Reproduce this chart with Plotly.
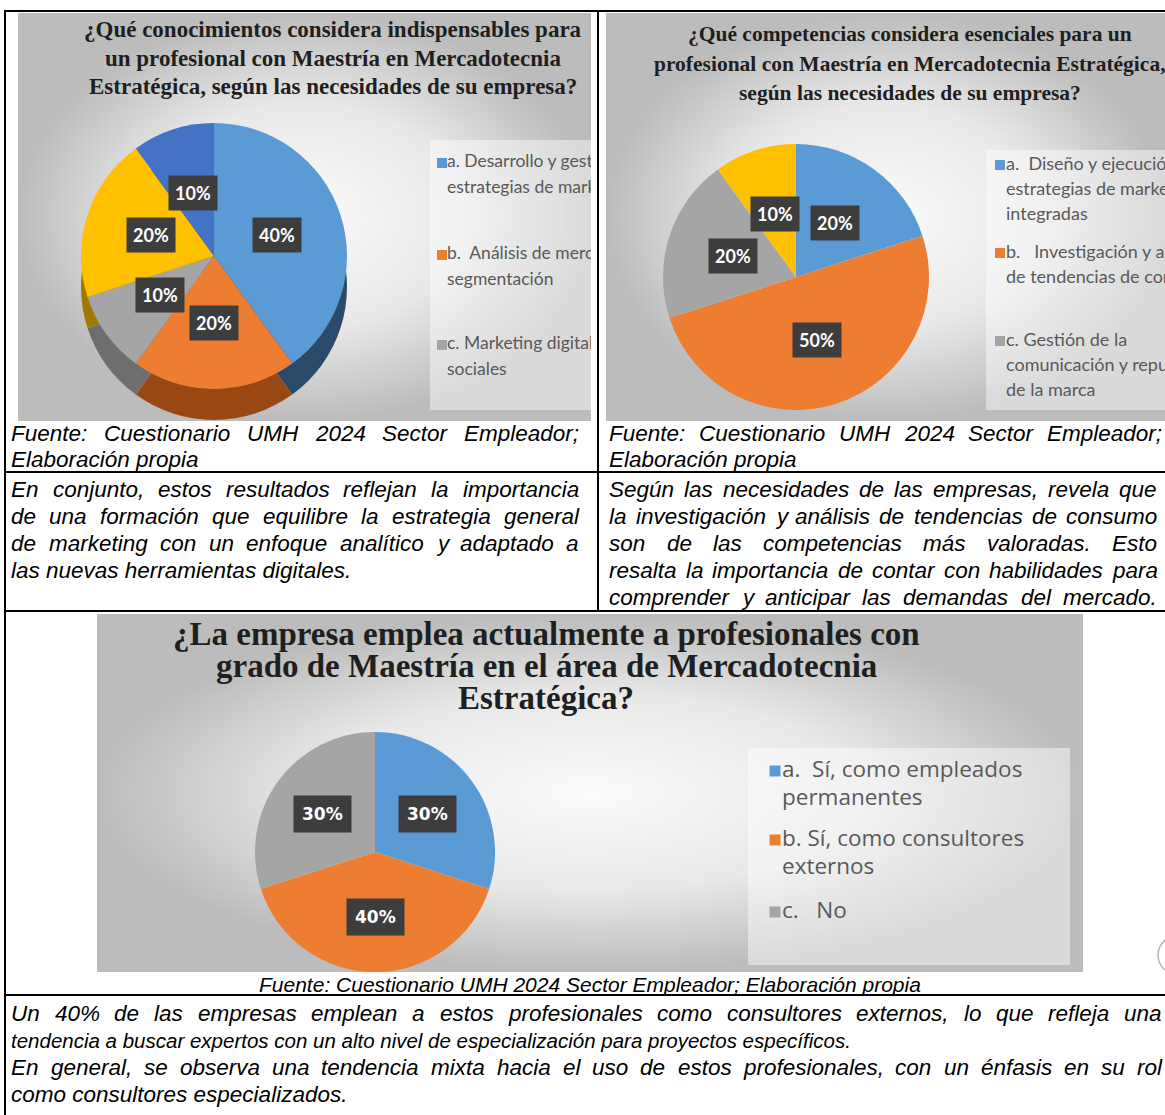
import math
import plotly.graph_objects as go

W, H = 1165, 1115

# ---------------- survey results ----------------
q1_title = ["¿Qué conocimientos considera indispensables para",
            "un profesional con Maestría en Mercadotecnia",
            "Estratégica, según las necesidades de su empresa?"]
q1_labels = ["a. Desarrollo y gestión de estrategias de marketing",
             "b. Análisis de mercado y segmentación",
             "c. Marketing digital y redes sociales",
             "d. Comportamiento del consumidor",
             "e. Gestión de marca"]
q1_values = [40, 20, 10, 20, 10]
q1_legend = [["a. Desarrollo y gestión de", "estrategias de marketing"],
             ["b.  Análisis de mercado y", "segmentación"],
             ["c. Marketing digital y redes", "sociales"]]

q2_title = ["¿Qué competencias considera esenciales para un",
            "profesional con Maestría en Mercadotecnia Estratégica,",
            "según las necesidades de su empresa?"]
q2_labels = ["a. Diseño y ejecución de estrategias de marketing integradas",
             "b. Investigación y análisis de tendencias de consumo",
             "c. Gestión de la comunicación y reputación de la marca",
             "d. Liderazgo y gestión de equipos"]
q2_values = [20, 50, 20, 10]
q2_legend = [["a.  Diseño y ejecución de", "estrategias de marketing", "integradas"],
             ["b.   Investigación y análisis", "de tendencias de consumo"],
             ["c. Gestión de la", "comunicación y reputación", "de la marca"]]

q3_title = ["¿La empresa emplea actualmente a profesionales con",
            "grado de Maestría en el área de Mercadotecnia",
            "Estratégica?"]
q3_labels = ["a. Sí, como empleados permanentes",
             "b. Sí, como consultores externos",
             "c. No"]
q3_values = [30, 40, 30]
q3_legend = [["a.  Sí, como empleados", "permanentes"],
             ["b. Sí, como consultores", "externos"],
             ["c.   No"]]

source_text = "Fuente: Cuestionario UMH 2024 Sector Empleador;"
source_tail = "Elaboración propia"

# (text, justified, font size or None for the default)
left_par = [("En conjunto, estos resultados reflejan la importancia", True, None),
            ("de una formación que equilibre la estrategia general", True, None),
            ("de marketing con un enfoque analítico y adaptado a", True, None),
            ("las nuevas herramientas digitales.", False, None)]
right_par = [("Según las necesidades de las empresas, revela que", True, None),
             ("la investigación y análisis de tendencias de consumo", True, None),
             ("son de las competencias más valoradas. Esto", True, None),
             ("resalta la importancia de contar con habilidades para", True, None),
             ("comprender y anticipar las demandas del mercado.", True, None)]
bottom_par = [("Un 40% de las empresas emplean a estos profesionales como consultores externos, lo que refleja una", True, None),
              ("tendencia a buscar expertos con un alto nivel de especialización para proyectos específicos.", False, 20.5),
              ("En general, se observa una tendencia mixta hacia el uso de estos profesionales, con un énfasis en su rol", True, None),
              ("como consultores especializados.", False, None)]

# Office palette: slice faces and darker sides for the tilted pie
face = ["#5B9BD5", "#ED7D31", "#A5A5A5", "#FFC000", "#4472C4"]
side = ["#2B4A6A", "#9A4813", "#6E6E6E", "#A07A00", "#2A4677"]

# ---------------- helpers ----------------
def px(x):
    return x / W


def py(y):
    return 1 - y / H


# Arial / Liberation Sans advance widths (1/1000 em) used to justify lines
ADV = {' ': 278, ',': 278, '.': 278, ';': 278, ':': 278, '%': 889, '?': 556,
       '¿': 611, '-': 333, 'á': 556, 'é': 556, 'í': 278, 'ó': 556, 'ú': 556,
       'ñ': 556, 'É': 667}
ADV.update({d: 556 for d in "0123456789"})
ADV.update(dict(A=667, B=667, C=722, D=722, E=667, F=611, G=778, H=722, I=278,
                J=500, K=667, L=556, M=833, N=722, O=778, P=667, Q=778, R=722,
                S=667, T=611, U=722, V=667, W=944, X=667, Y=667, Z=611))
ADV.update(dict(a=556, b=556, c=500, d=556, e=556, f=278, g=556, h=556, i=222,
                j=222, k=500, l=222, m=833, n=556, o=556, p=556, q=556, r=333,
                s=500, t=278, u=556, v=500, w=722, x=500, y=500, z=500))


def text_width(s, size):
    return sum(ADV.get(ch, 556) for ch in s) * size / 1000.0


BODY_FONT = "Liberation Sans"
BODY_SIZE = 22.5

annotations = []


def body_line(text, x0, x1, y, justify, size=None):
    size = size or BODY_SIZE
    base = dict(xref="paper", yref="paper", y=py(y), yanchor="middle",
                xanchor="left", showarrow=False, borderpad=0,
                font=dict(family=BODY_FONT, size=size, color="#000000"))
    words = text.split()
    if justify and len(words) > 1:
        widths = [text_width(w, size) for w in words]
        gap = (x1 - x0 - sum(widths)) / (len(words) - 1)
        gap = max(gap, text_width(" ", size))
        x = x0
        for w, wd in zip(words, widths):
            annotations.append(dict(base, x=px(x), text="<i>" + w + "</i>"))
            x += wd + gap
    else:
        annotations.append(dict(base, x=px(x0), text="<i>" + text + "</i>"))


def paragraph(lines, x0, x1, y0, step):
    for i, (t, j, s) in enumerate(lines):
        body_line(t, x0, x1, y0 + i * step, j, s)


def title_lines(lines, cx, y0, step, size, color="#1f1f1f"):
    for i, t in enumerate(lines):
        annotations.append(dict(xref="paper", yref="paper", x=px(cx), y=py(y0 + i * step),
                                xanchor="center", yanchor="middle", showarrow=False,
                                borderpad=0, text="<b>" + t + "</b>",
                                font=dict(family="Liberation Serif", size=size, color=color)))


def pie(values, labels, colors, cx, cy, r, dy=0):
    return go.Pie(values=values, labels=labels, sort=False, direction="clockwise",
                  rotation=0, textinfo="none", hoverinfo="label+percent",
                  showlegend=False, marker=dict(colors=colors, line=dict(width=0)),
                  domain=dict(x=[px(cx - r), px(cx + r)],
                              y=[py(cy + r + dy), py(cy - r + dy)]))


def slice_labels(values, cx, cy, r, family, size, k=0.5, pad=6):
    tot = float(sum(values))
    acc = 0.0
    for v in values:
        mid = (acc + v / 2.0) / tot * 2 * math.pi
        annotations.append(dict(xref="paper", yref="paper",
                                x=px(cx + k * r * math.sin(mid)),
                                y=py(cy - k * r * math.cos(mid)),
                                xanchor="center", yanchor="middle", showarrow=False,
                                text="<b>%d%%</b>" % round(100 * v / tot),
                                bgcolor="#3d3d3d", borderpad=pad,
                                font=dict(family=family, size=size, color="#ffffff")))
        acc += v


def rect_xy(x0, y0, x1, y1):
    return [x0, x1, x1, x0, x0], [y0, y0, y1, y1, y0]


fig = go.Figure()

# panels: (axis id, x0, x1, y0, y1) in page pixels
panels = {"2": (18, 591, 13, 421), "3": (606, 1165, 13, 421), "4": (97, 1083, 614, 972)}
layout_axes = {}
for k, (x0, x1, y0, y1) in panels.items():
    layout_axes["xaxis" + k] = dict(domain=[px(x0), px(x1)], range=[x0, x1], visible=False,
                                    anchor="y" + k, fixedrange=True)
    layout_axes["yaxis" + k] = dict(domain=[py(y1), py(y0)], range=[y1, y0], visible=False,
                                    anchor="x" + k, fixedrange=True)
    bx, by = rect_xy(x0, y0, x1, y1)
    fig.add_trace(go.Scatter(x=bx, y=by, mode="lines", fill="toself", line=dict(width=0),
                             fillgradient=dict(type="radial",
                                               colorscale=[[0, "#fbfbfb"], [0.55, "#e8e8e8"], [1, "#bcbcbc"]]),
                             xaxis="x" + k, yaxis="y" + k, hoverinfo="skip", showlegend=False))


def legend_block(k, entries, colors, box, xsq, gap, ytops, step, family, size, sq):
    bx, by = rect_xy(*box)
    fig.add_trace(go.Scatter(x=bx, y=by, mode="lines", fill="toself", line=dict(width=0),
                             fillcolor="rgba(255,255,255,0.45)", xaxis="x" + k, yaxis="y" + k,
                             hoverinfo="skip", showlegend=False))
    fig.add_trace(go.Scatter(x=[xsq] * len(entries), y=ytops, mode="markers",
                             marker=dict(symbol="square", size=sq, color=colors[:len(entries)]),
                             xaxis="x" + k, yaxis="y" + k, hoverinfo="skip", showlegend=False))
    tx, ty, tt = [], [], []
    for e, y0 in zip(entries, ytops):
        for i, line in enumerate(e):
            tx.append(xsq + gap)
            ty.append(y0 + i * step)
            tt.append(line)
    fig.add_trace(go.Scatter(x=tx, y=ty, text=tt, mode="text", textposition="middle right",
                             textfont=dict(family=family, size=size, color="#595959"),
                             xaxis="x" + k, yaxis="y" + k, hoverinfo="skip", showlegend=False))


legend_block("2", q1_legend, face, (430, 140, 600, 410), 442, 5, [163, 255, 345], 26,
             "Lato", 17.5, 10)
legend_block("3", q2_legend, face, (986, 150, 1170, 410), 1000, 6, [165, 253, 341], 25,
             "Lato", 18, 10)
legend_block("4", q3_legend, face, (748, 748, 1070, 965), 775, 7, [771, 840, 912], 28,
             "Open Sans", 22.5, 11)

# pies (the first chart is drawn tilted: darker copy underneath gives the depth)
c1 = (214, 256, 133, 31)
fig.add_trace(pie(q1_values, q1_labels, side, c1[0], c1[1], c1[2], dy=c1[3]))
fig.add_trace(pie(q1_values, q1_labels, face, c1[0], c1[1], c1[2]))
c2 = (796, 277, 133)
fig.add_trace(pie(q2_values, q2_labels, face[:4], *c2))
c3 = (375, 852, 120)
fig.add_trace(pie(q3_values, q3_labels, face[:3], *c3))

slice_labels(q1_values, c1[0], c1[1], c1[2], "Lato", 18)
slice_labels(q2_values, c2[0], c2[1], c2[2], "Lato", 18)
slice_labels(q3_values, c3[0], c3[1], c3[2], "DejaVu Sans", 17, k=0.54, pad=8)

# chart titles
title_lines(q1_title, 333, 30, 28.5, 23)
title_lines(q2_title, 910, 34, 29.5, 21.5)
title_lines(q3_title, 546, 634, 32, 33)

# captions and commentary
body_line(source_text, 10, 578, 433, True)
body_line(source_tail, 10, 578, 459, False)
body_line(source_text, 608, 1161, 433, True)
body_line(source_tail, 608, 1161, 459, False)
paragraph(left_par, 10, 578, 489, 27.2)
paragraph(right_par, 608, 1156, 489, 27.2)
annotations.append(dict(xref="paper", yref="paper", x=px(590), y=py(984), xanchor="center",
                        yanchor="middle", showarrow=False,
                        text="<i>" + source_text + " " + source_tail + "</i>",
                        font=dict(family=BODY_FONT, size=21, color="#000000")))
paragraph(bottom_par, 10, 1161, 1013, 27)

# table rules
shapes = []


def rule(x0, y0, x1, y1, w=2):
    shapes.append(dict(type="line", xref="paper", yref="paper", x0=px(x0), y0=py(y0),
                       x1=px(x1), y1=py(y1), line=dict(color="#000000", width=w)))


rule(4, 11, W, 11)
rule(5, 10, 5, H)
rule(598, 10, 598, 612)
rule(4, 472, W, 472)
rule(4, 611, W, 611)
rule(4, 995, W, 995)
shapes.append(dict(type="circle", xref="paper", yref="paper", x0=px(1158), x1=px(1200),
                   y0=py(975), y1=py(935), line=dict(color="#b8b8b8", width=1.5)))

fig.update_layout(width=W, height=H, margin=dict(l=0, r=0, t=0, b=0),
                  paper_bgcolor="#ffffff", plot_bgcolor="rgba(0,0,0,0)",
                  xaxis=dict(visible=False, range=[0, W], domain=[0, 1]),
                  yaxis=dict(visible=False, range=[H, 0], domain=[0, 1]),
                  showlegend=False, annotations=annotations, shapes=shapes,
                  **layout_axes)

fig.write_html("out.html", config={"displayModeBar": False})
